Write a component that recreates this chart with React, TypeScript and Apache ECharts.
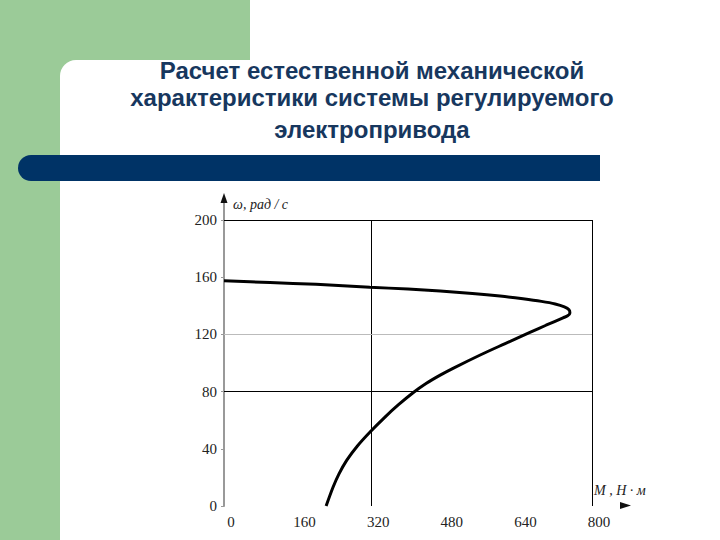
import React, { useEffect, useRef } from "react";
import * as echarts from "echarts";

const titleLines = [
  "Расчет естественной механической",
  "характеристики системы регулируемого",
  "электропривода",
];
const xTicks = [0, 160, 320, 480, 640, 800];
const yTicks = [0, 40, 80, 120, 160, 200];
const torque = [0, 100, 200, 317, 400, 470, 540, 600, 650, 690, 720, 740, 750, 752, 747, 737, 700, 665, 610, 557, 500, 470, 440, 411, 380, 350, 317, 290, 267, 250, 237, 222];
const speed = [157.5, 156.3, 155, 153, 151.7, 150.3, 148.6, 146.8, 144.9, 143.1, 141.3, 139.3, 137.3, 135, 133, 131.6, 126.4, 121.4, 113.4, 105.6, 96.6, 91.5, 85.8, 79.2, 71, 62.2, 51.6, 42, 32.1, 22.5, 13.1, 0];
const gridX = [320, 800];
const gridYDark = [80, 200];
const gridYLight = [120];
const yName = "ω, рад / с";
const xName = "M , Н · м";

export default function App() {
  const ref = useRef<HTMLDivElement>(null);
  useEffect(() => {
    if (!ref.current) return;
    const chart = echarts.init(ref.current, null, { renderer: "svg" });
    const green = "#9BCB98";
    const option = {
      animation: false,
      backgroundColor: "#ffffff",
      graphic: [
        { type: "rect", z: -10, shape: { x: 0, y: 0, width: 250, height: 100 }, style: { fill: green } },
        { type: "rect", z: -10, shape: { x: 0, y: 0, width: 60, height: 540 }, style: { fill: green } },
        { type: "rect", z: -9, shape: { x: 60, y: 60, width: 660, height: 480, r: [16, 0, 0, 0] }, style: { fill: "#ffffff" } },
        { type: "rect", z: -8, shape: { x: 18, y: 155, width: 582, height: 26, r: [13, 0, 0, 13] }, style: { fill: "#003366" } },
        ...titleLines.map((t, i) => ({
          type: "text",
          x: 372,
          y: [70, 97, 129][i],
          style: {
            text: t,
            fill: "#17375E",
            font: "bold 24px 'Liberation Sans', Arial, sans-serif",
            textAlign: "center",
            textVerticalAlign: "middle",
          },
        })),
        { type: "line", shape: { x1: 224, y1: 202, x2: 224, y2: 222 }, style: { stroke: "#999", lineWidth: 2 } },
        { type: "polygon", shape: { points: [[224, 193], [220.5, 203], [227.5, 203]] }, style: { fill: "#111" } },
        { type: "polygon", shape: { points: [[631, 505.5], [620, 502], [620, 509]] }, style: { fill: "#111" } },
        {
          type: "text", x: 233, y: 204,
          style: { text: yName, fill: "#222", font: "italic 14px 'Liberation Serif', serif", textVerticalAlign: "middle" },
        },
        {
          type: "text", x: 594, y: 490,
          style: { text: xName, fill: "#222", font: "italic 14px 'Liberation Serif', serif", textVerticalAlign: "middle" },
        },
      ],
      grid: { left: 224, right: 128, top: 220, bottom: 34 },
      xAxis: {
        type: "value",
        min: xTicks[0],
        max: xTicks[xTicks.length - 1],
        interval: 160,
        axisLine: { show: false },
        axisTick: { show: false },
        splitLine: { show: false },
        axisLabel: {
          margin: 8,
          padding: [0, 0, 0, 14],
          color: "#222",
          fontSize: 15,
          fontFamily: "'Liberation Serif', serif",
        },
      },
      yAxis: {
        type: "value",
        min: yTicks[0],
        max: yTicks[yTicks.length - 1],
        interval: 40,
        axisLine: { show: true, lineStyle: { color: "#999", width: 2 } },
        axisTick: { show: true, length: 3, lineStyle: { color: "#999" } },
        splitLine: { show: false },
        axisLabel: {
          margin: 7,
          color: "#222",
          fontSize: 15,
          fontFamily: "'Liberation Serif', serif",
        },
      },
      series: [
        {
          type: "line",
          data: torque.map((m, i) => [m, speed[i]]),
          showSymbol: false,
          smooth: 0.3,
          lineStyle: { color: "#000", width: 3 },
          z: 5,
          markLine: {
            silent: true,
            symbol: "none",
            label: { show: false },
            animation: false,
            data: [
              ...gridX.map((v) => ({ xAxis: v, lineStyle: { color: "#000", width: 1, type: "solid" } })),
              ...gridYDark.map((v) => ({ yAxis: v, lineStyle: { color: "#000", width: 1, type: "solid" } })),
              ...gridYLight.map((v) => ({ yAxis: v, lineStyle: { color: "#bbb", width: 1, type: "solid" } })),
            ],
          },
        },
      ],
    };
    chart.setOption(option as any);
    return () => chart.dispose();
  }, []);
  return <div ref={ref} style={{ position: "absolute", left: 0, top: 0, width: 720, height: 540 }} />;
}
